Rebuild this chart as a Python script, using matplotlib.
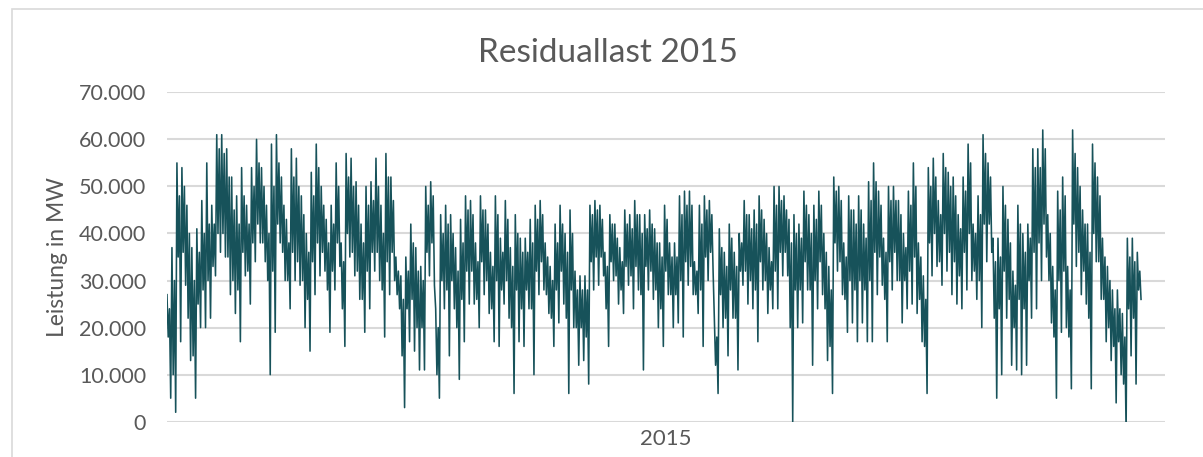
import numpy as np
import matplotlib.pyplot as plt
from matplotlib.ticker import FuncFormatter
from matplotlib.patches import Rectangle

# Residuallast 2015 in ~5 px steps (about two days each), in 1000 MW:
# highest peak, lowest dip, and the upper / lower edge of the dense band in that step
peak_mw = [27, 37, 55, 54, 46, 37, 41, 47, 55, 46, 61, 61, 58, 52, 48, 54, 46, 54, 60, 54, 46, 59, 61, 52, 43,
           58, 56, 48, 40, 53, 59, 50, 43, 46, 55, 38, 57, 56, 51, 42, 50, 51, 56, 46, 57, 52, 35, 31, 35, 42,
           37, 33, 50, 51, 24, 44, 46, 44, 37, 43, 48, 47, 38, 48, 45, 36, 48, 39, 47, 37, 44, 39, 39, 43, 46,
           47, 38, 33, 42, 46, 40, 45, 32, 31, 31, 46, 47, 46, 36, 44, 42, 37, 45, 44, 47, 44, 44, 45, 41, 38,
           46, 38, 38, 48, 49, 49, 34, 46, 48, 47, 22, 41, 36, 42, 36, 40, 47, 44, 45, 48, 43, 37, 50, 50, 48,
           43, 44, 42, 49, 44, 46, 49, 40, 33, 52, 50, 38, 48, 45, 48, 42, 51, 55, 49, 39, 50, 50, 47, 40, 49,
           55, 38, 31, 54, 56, 47, 57, 53, 52, 44, 52, 59, 42, 48, 61, 55, 39, 39, 50, 43, 32, 46, 40, 42, 58,
           58, 62, 44, 33, 49, 52, 33, 62, 54, 45, 42, 59, 52, 39, 33, 28, 28, 23, 39, 39, 36]
low_mw = [5, 2, 17, 29, 13, 5, 20, 20, 22, 31, 36, 35, 27, 23, 17, 31, 25, 34, 38, 34, 10, 19, 38, 30, 24,
          30, 29, 20, 15, 27, 31, 32, 19, 28, 33, 16, 35, 31, 26, 19, 24, 32, 30, 18, 27, 30, 24, 3, 17, 15,
          11, 11, 31, 29, 5, 24, 14, 24, 9, 17, 25, 25, 20, 27, 23, 17, 16, 25, 22, 6, 17, 16, 24, 10, 27,
          28, 23, 16, 21, 25, 6, 20, 12, 13, 8, 28, 29, 31, 16, 30, 25, 23, 29, 24, 28, 11, 28, 26, 20, 16,
          27, 20, 21, 18, 29, 27, 23, 16, 30, 32, 6, 20, 14, 22, 11, 29, 25, 24, 17, 28, 23, 24, 24, 31, 31,
          0, 20, 21, 28, 12, 24, 27, 13, 6, 32, 27, 19, 21, 17, 21, 17, 17, 27, 29, 17, 28, 30, 21, 24, 25,
          23, 17, 6, 31, 33, 29, 32, 27, 25, 24, 28, 30, 26, 20, 34, 36, 5, 10, 22, 12, 11, 10, 12, 22, 24,
          30, 35, 21, 5, 19, 20, 7, 33, 27, 25, 7, 34, 26, 17, 13, 4, 10, -2, 14, 8, 26]
band_hi = [24, 30, 48, 50, 40, 30, 36, 40, 42, 42, 58, 57, 52, 45, 42, 48, 42, 50, 55, 50, 40, 50, 55, 46, 38,
           52, 50, 44, 36, 48, 54, 46, 38, 42, 50, 34, 52, 50, 46, 38, 46, 47, 50, 40, 52, 47, 32, 26, 32, 38,
           32, 30, 46, 48, 20, 40, 42, 40, 32, 38, 45, 44, 34, 45, 42, 33, 44, 36, 43, 33, 40, 36, 36, 38, 43,
           44, 35, 30, 38, 42, 36, 40, 28, 28, 28, 44, 45, 43, 33, 42, 39, 34, 42, 41, 44, 40, 41, 42, 38, 35,
           43, 35, 35, 44, 46, 46, 32, 42, 45, 44, 18, 37, 33, 39, 33, 38, 44, 41, 42, 45, 40, 34, 46, 47, 45,
           38, 40, 39, 46, 40, 43, 46, 36, 28, 49, 47, 35, 45, 42, 45, 39, 47, 51, 46, 36, 47, 47, 44, 37, 46,
           50, 35, 26, 50, 52, 44, 54, 50, 48, 41, 49, 55, 40, 44, 57, 52, 34, 35, 46, 38, 29, 42, 36, 39, 54,
           54, 58, 40, 28, 45, 48, 28, 57, 50, 42, 36, 55, 48, 35, 30, 24, 24, 18, 35, 34, 32]
band_lo = [18, 10, 35, 36, 22, 14, 25, 28, 30, 33, 40, 40, 35, 30, 28, 36, 32, 38, 42, 38, 30, 32, 42, 36, 30,
           36, 34, 30, 26, 34, 38, 36, 28, 32, 38, 24, 40, 36, 32, 26, 32, 36, 36, 28, 34, 36, 27, 14, 24, 26,
           20, 20, 36, 38, 10, 30, 28, 30, 20, 26, 32, 32, 26, 34, 30, 24, 30, 28, 30, 20, 28, 24, 28, 24, 32,
           34, 27, 22, 28, 32, 22, 28, 20, 20, 18, 34, 35, 35, 24, 34, 31, 28, 33, 31, 33, 27, 33, 32, 28, 24,
           32, 27, 27, 30, 34, 33, 27, 28, 35, 36, 12, 27, 22, 28, 22, 32, 32, 30, 28, 34, 30, 28, 32, 36, 36,
           20, 28, 28, 34, 28, 30, 34, 24, 16, 38, 34, 26, 30, 28, 30, 28, 30, 36, 35, 26, 34, 36, 30, 30, 32,
           35, 26, 16, 38, 40, 34, 40, 36, 34, 31, 36, 40, 32, 30, 42, 42, 22, 24, 32, 26, 20, 26, 24, 30, 36,
           38, 42, 30, 18, 30, 32, 18, 42, 36, 32, 22, 40, 34, 26, 20, 16, 17, 8, 24, 22, 28]
year_label = '2015'

plt.rcParams['font.family'] = ['Lato', 'DejaVu Sans']

values = np.column_stack([peak_mw, band_lo, band_hi, low_mw]).ravel() * 1000
x = np.arange(len(values))

fig = plt.figure(figsize=(12.03, 4.57), dpi=100)
ax = fig.add_axes([0.1388, 0.0772, 0.8296, 0.7208])

txt = '#595959'
grid = '#D9D9D9'

ax.plot(x, values, color='#17525A', lw=1.15)

ax.set_ylim(0, 70000)
ax.set_xlim(0, (len(values) - 1) * 1000 / 976)
ax.set_yticks(np.arange(0, 70001, 10000))
ax.yaxis.set_major_formatter(FuncFormatter(lambda v, p: f'{v:,.0f}'.replace(',', '.')))
ax.yaxis.grid(True, color=grid, lw=1.5)
ax.set_axisbelow(True)
ax.set_xticks([ax.get_xlim()[1] / 2])
ax.set_xticklabels([year_label])
ax.tick_params(length=0, colors=txt)
ax.tick_params(axis='y', pad=15, labelsize=15.5)
ax.tick_params(axis='x', pad=5, labelsize=16)
for s in ax.spines.values():
    s.set_visible(False)

ax.set_ylabel('Leistung in MW', fontsize=16.5, color=txt, labelpad=8)
fig.text(0.505, 0.885, 'Residuallast 2015', ha='center', va='center', fontsize=24, color=txt)

fig.patches.append(Rectangle((11.5 / 1203, -0.1), 1.2, 1.1 - 9.5 / 457, transform=fig.transFigure,
                             fill=False, edgecolor=grid, lw=1.2))

plt.savefig('out.png', dpi=100)
